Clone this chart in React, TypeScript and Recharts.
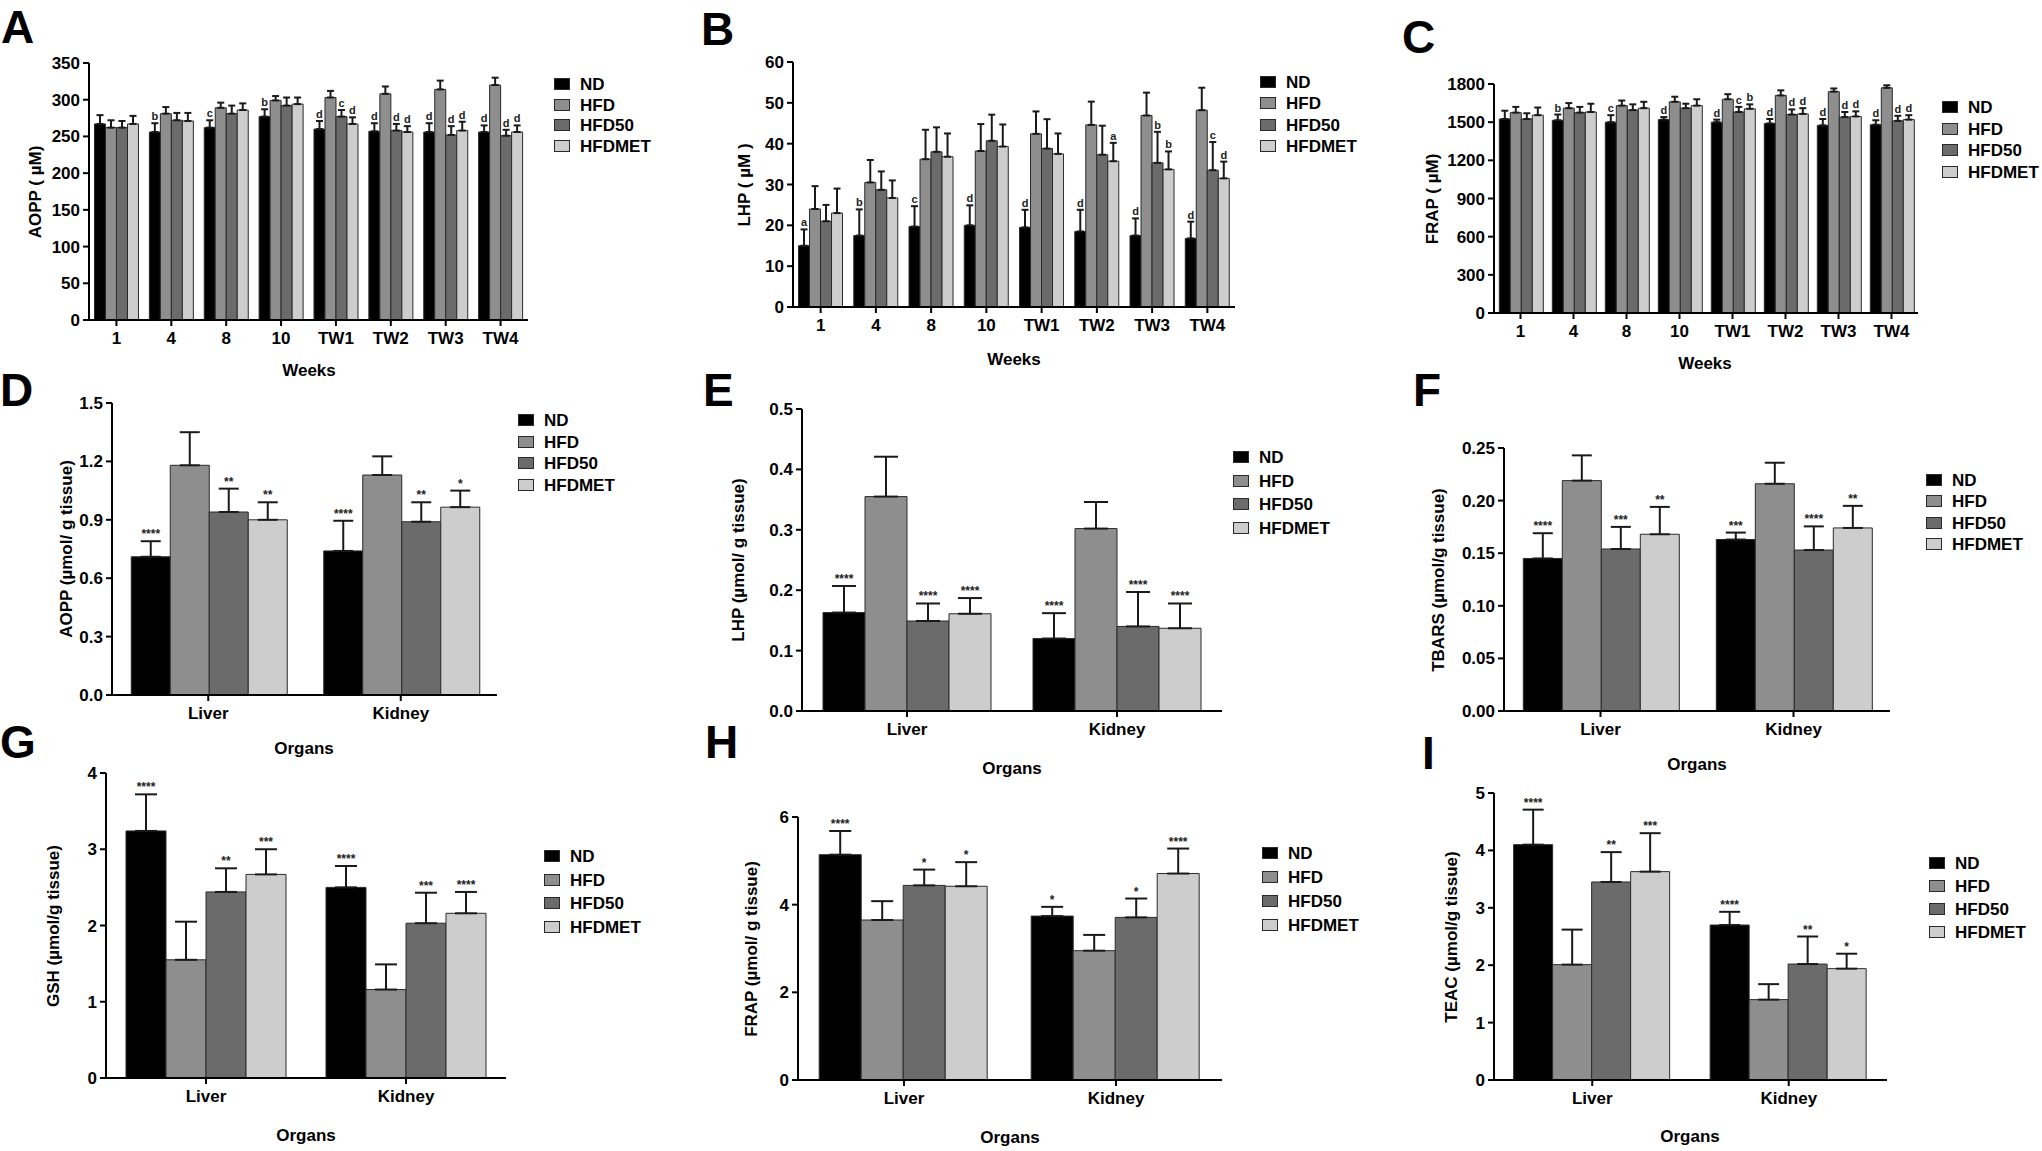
import { BarChart, Bar, XAxis, YAxis, ErrorBar, LabelList } from 'recharts';

const FONT = '"Liberation Sans", Arial, Helvetica, sans-serif';

const GROUPS = ['ND', 'HFD', 'HFD50', 'HFDMET'];
const GROUP_COLORS = ['#000000', '#8e8e8e', '#6b6b6b', '#cdcdcd'];

const WEEKS = ['1', '4', '8', '10', 'TW1', 'TW2', 'TW3', 'TW4'];
const ORGANS = ['Liver', 'Kidney'];

// rows follow GROUPS order: ND, HFD, HFD50, HFDMET
const aoppSerum = [
  [267, 256, 262, 277, 260, 257, 256, 256],
  [262, 281, 289, 299, 303, 308, 314, 320],
  [262, 272, 281, 292, 277, 258, 252, 251],
  [267, 271, 286, 294, 267, 256, 258, 256],
];
const aoppSerumSd = [
  [12, 12, 10, 10, 11, 11, 12, 9],
  [10, 9, 7, 6, 9, 10, 12, 10],
  [9, 10, 11, 11, 9, 9, 12, 8],
  [11, 11, 9, 9, 9, 8, 12, 9],
];
const aoppSerumSig = [
  ['', 'b', 'c', 'b', 'd', 'd', 'd', 'd'],
  ['', '', '', '', '', '', '', ''],
  ['', '', '', '', 'c', 'd', 'd', 'd'],
  ['', '', '', '', 'd', 'd', 'd', 'd'],
];

const lhpSerum = [
  [15, 17.5, 19.7, 20, 19.5, 18.5, 17.5, 16.8],
  [24, 30.5, 36.2, 38.2, 42.4, 44.6, 46.9, 48.2],
  [21, 28.7, 38, 40.7, 38.8, 37.3, 35.3, 33.5],
  [23, 26.7, 36.8, 39.3, 37.5, 35.7, 33.7, 31.5],
];
const lhpSerumSd = [
  [4, 6.4, 5, 4.9, 4.3, 5.3, 4.2, 4.1],
  [5.6, 5.5, 7.2, 6.6, 5.5, 5.7, 5.6, 5.5],
  [4, 4.5, 6, 6.4, 7.2, 7.1, 7.6, 6.9],
  [6, 4.3, 5.7, 5.4, 5, 4.5, 4.4, 4.1],
];
const lhpSerumSig = [
  ['a', 'b', 'c', 'd', 'd', 'd', 'd', 'd'],
  ['', '', '', '', '', '', '', ''],
  ['', '', '', '', '', '', 'b', 'c'],
  ['', '', '', '', '', 'a', 'b', 'd'],
];

const frapSerum = [
  [1525, 1515, 1500, 1520, 1500, 1490, 1475, 1480],
  [1575, 1610, 1630, 1660, 1680, 1710, 1740, 1770],
  [1525, 1575, 1595, 1610, 1580, 1560, 1540, 1510],
  [1555, 1580, 1610, 1630, 1605, 1565, 1545, 1520],
];
const frapSerumSd = [
  [65, 45, 55, 20, 20, 35, 50, 35],
  [45, 40, 40, 40, 40, 40, 25, 20],
  [45, 45, 45, 35, 40, 40, 40, 40],
  [60, 65, 50, 50, 35, 45, 40, 35],
];
const frapSerumSig = [
  ['', 'b', 'c', 'd', 'd', 'd', 'd', 'd'],
  ['', '', '', '', '', '', '', ''],
  ['', '', '', '', 'c', 'd', 'd', 'd'],
  ['', '', '', '', 'b', 'd', 'd', 'd'],
];

const aoppTissue = [[0.71, 0.74], [1.18, 1.13], [0.94, 0.89], [0.9, 0.965]];
const aoppTissueSd = [[0.08, 0.155], [0.17, 0.096], [0.12, 0.1], [0.09, 0.085]];
const aoppTissueSig = [['****', '****'], ['', ''], ['**', '**'], ['**', '*']];

const lhpTissue = [[0.163, 0.12], [0.355, 0.302], [0.149, 0.14], [0.161, 0.137]];
const lhpTissueSd = [[0.044, 0.042], [0.066, 0.044], [0.029, 0.057], [0.026, 0.041]];
const lhpTissueSig = [['****', '****'], ['', ''], ['****', '****'], ['****', '****']];

const tbarsTissue = [[0.145, 0.163], [0.219, 0.216], [0.154, 0.153], [0.168, 0.174]];
const tbarsTissueSd = [[0.024, 0.0066], [0.024, 0.02], [0.021, 0.0225], [0.026, 0.021]];
const tbarsTissueSig = [['****', '***'], ['', ''], ['***', '****'], ['**', '**']];

const gshTissue = [[3.24, 2.5], [1.55, 1.16], [2.44, 2.03], [2.67, 2.16]];
const gshTissueSd = [[0.48, 0.28], [0.5, 0.33], [0.31, 0.4], [0.33, 0.28]];
const gshTissueSig = [['****', '****'], ['', ''], ['**', '***'], ['***', '****']];

const frapTissue = [[5.14, 3.74], [3.65, 2.95], [4.44, 3.71], [4.42, 4.71]];
const frapTissueSd = [[0.54, 0.21], [0.43, 0.36], [0.36, 0.43], [0.55, 0.57]];
const frapTissueSig = [['****', '*'], ['', ''], ['*', '*'], ['*', '****']];

const teacTissue = [[4.1, 2.7], [2.01, 1.4], [3.45, 2.02], [3.63, 1.94]];
const teacTissueSd = [[0.61, 0.23], [0.61, 0.27], [0.52, 0.48], [0.67, 0.26]];
const teacTissueSig = [['****', '****'], ['', ''], ['**', '**'], ['***', '*']];

function buildRows(cats: string[], means: number[][], sds: number[][], sigs: string[][]) {
  return cats.map((c, i) => {
    const row: any = { cat: c };
    GROUPS.forEach((g, k) => {
      row[g] = means[k][i];
      row[g + '_err'] = [0, sds[k][i]];
      row[g + '_sig'] = sigs[k][i];
    });
    return row;
  });
}

function sigContent(rows: any[], g: string, fontSize: number) {
  return (props: any) => {
    const vb = props.viewBox && props.viewBox.width != null ? props.viewBox : props;
    const { x, y, width, height } = vb;
    const row = rows[props.index];
    if (!row || !row[g + '_sig']) return null;
    const h = Math.abs(height);
    const top = Math.min(y, y + height);
    const ey = top - (h * row[g + '_err'][1]) / row[g];
    return (
      <text
        x={x + width / 2}
        y={ey - 3}
        textAnchor="middle"
        fontFamily={FONT}
        fontWeight={700}
        fontSize={fontSize}
        fill="#222"
      >
        {row[g + '_sig']}
      </text>
    );
  };
}

const abs = (x: number, y: number, extra: any = {}) => ({
  position: 'absolute' as const,
  left: x,
  top: y,
  fontFamily: FONT,
  fontWeight: 700,
  color: '#000',
  whiteSpace: 'nowrap' as const,
  lineHeight: 1,
  ...extra,
});

interface PanelProps {
  letter: string;
  letterAt: [number, number];
  box: [number, number, number, number];
  cats: string[];
  means: number[][];
  sds: number[][];
  sigs: string[][];
  ticks: number[];
  decimals: number;
  yTitle: string;
  yTitleX: number;
  xTitle: string;
  xTitleAt: [number, number];
  legendX: number;
  legendY: number;
  legendStep: number;
  cap: number;
  sigSize: number;
}

function Panel(p: PanelProps) {
  const rows = buildRows(p.cats, p.means, p.sds, p.sigs);
  const [x0, y0, x1, y1] = p.box;
  const YW = 70;
  const XH = 40;
  const MT = 10;
  const MR = 4;
  const left = x0 - YW;
  const top = y0 - MT;
  const width = x1 - left + MR;
  const height = y1 + XH - top;
  const tick = { fill: '#000', fontSize: 17, fontWeight: 700, fontFamily: FONT };
  const line = { stroke: '#000', strokeWidth: 2 };

  return (
    <>
      <div style={abs(p.letterAt[0] - 2, p.letterAt[1] - 6, { fontSize: 46 })}>{p.letter}</div>
      <div style={{ position: 'absolute', left, top }}>
        <BarChart
          width={width}
          height={height}
          data={rows}
          margin={{ top: MT, right: MR, left: 0, bottom: 0 }}
          barCategoryGap="10%"
          barGap={0}
        >
          <XAxis
            dataKey="cat"
            height={XH}
            tick={tick}
            axisLine={line}
            tickLine={line}
            tickSize={6}
            tickMargin={6}
            interval={0}
          />
          <YAxis
            width={YW}
            domain={[0, p.ticks[p.ticks.length - 1]]}
            ticks={p.ticks}
            tick={tick}
            axisLine={line}
            tickLine={line}
            tickSize={6}
            tickMargin={3}
            interval={0}
            tickFormatter={(v: number) => v.toFixed(p.decimals)}
          />
          {GROUPS.map((g, k) => (
            <Bar
              key={g}
              dataKey={g}
              fill={GROUP_COLORS[k]}
              stroke="#2a2a2a"
              strokeWidth={1}
              isAnimationActive={false}
            >
              <ErrorBar
                dataKey={g + '_err'}
                direction="y"
                width={p.cap}
                stroke="#1a1a1a"
                strokeWidth={2}
              />
              <LabelList dataKey={g + '_sig'} content={sigContent(rows, g, p.sigSize)} />
            </Bar>
          ))}
        </BarChart>
      </div>
      <div
        style={abs(p.yTitleX, (y0 + y1) / 2, {
          fontSize: 17,
          transform: 'translate(-50%, -50%) rotate(-90deg)',
        })}
      >
        {p.yTitle}
      </div>
      <div style={abs(p.xTitleAt[0], p.xTitleAt[1], { fontSize: 17, transform: 'translate(-50%, -50%)' })}>
        {p.xTitle}
      </div>
      {GROUPS.map((g, k) => (
        <div key={g}>
          <div
            style={{
              position: 'absolute',
              left: p.legendX,
              top: p.legendY + k * p.legendStep - 6,
              width: 16,
              height: 12,
              boxSizing: 'border-box',
              background: GROUP_COLORS[k],
              border: '1px solid #2a2a2a',
            }}
          />
          <div
            style={abs(p.legendX + 26, p.legendY + k * p.legendStep, {
              fontSize: 17,
              transform: 'translateY(-50%)',
            })}
          >
            {g}
          </div>
        </div>
      ))}
    </>
  );
}

export default function App() {
  return (
    <div
      style={{
        position: 'absolute',
        left: 0,
        top: 0,
        width: 2042,
        height: 1151,
        background: '#fff',
        overflow: 'hidden',
      }}
    >
      <Panel
        letter="A" letterAt={[3, 10]} box={[89, 63, 528, 320]}
        cats={WEEKS} means={aoppSerum} sds={aoppSerumSd} sigs={aoppSerumSig}
        ticks={[0, 50, 100, 150, 200, 250, 300, 350]} decimals={0}
        yTitle="AOPP ( µM)" yTitleX={35} xTitle="Weeks" xTitleAt={[309, 370]}
        legendX={554} legendY={84} legendStep={20.7} cap={3.5} sigSize={11}
      />
      <Panel
        letter="B" letterAt={[703, 12]} box={[793, 62, 1235, 307]}
        cats={WEEKS} means={lhpSerum} sds={lhpSerumSd} sigs={lhpSerumSig}
        ticks={[0, 10, 20, 30, 40, 50, 60]} decimals={0}
        yTitle="LHP ( µM )" yTitleX={744} xTitle="Weeks" xTitleAt={[1014, 359]}
        legendX={1260} legendY={82} legendStep={21.3} cap={3.5} sigSize={11}
      />
      <Panel
        letter="C" letterAt={[1404, 20]} box={[1494, 84, 1918, 313]}
        cats={WEEKS} means={frapSerum} sds={frapSerumSd} sigs={frapSerumSig}
        ticks={[0, 300, 600, 900, 1200, 1500, 1800]} decimals={0}
        yTitle="FRAP ( µM)" yTitleX={1432} xTitle="Weeks" xTitleAt={[1705, 363]}
        legendX={1942} legendY={107} legendStep={21.7} cap={3.5} sigSize={11}
      />
      <Panel
        letter="D" letterAt={[2, 373]} box={[112, 403, 497, 695]}
        cats={ORGANS} means={aoppTissue} sds={aoppTissueSd} sigs={aoppTissueSig}
        ticks={[0, 0.3, 0.6, 0.9, 1.2, 1.5]} decimals={1}
        yTitle="AOPP (µmol/ g tissue)" yTitleX={66} xTitle="Organs" xTitleAt={[304, 748]}
        legendX={518} legendY={420} legendStep={21.7} cap={10} sigSize={12}
      />
      <Panel
        letter="E" letterAt={[705, 373]} box={[802, 409, 1222, 711]}
        cats={ORGANS} means={lhpTissue} sds={lhpTissueSd} sigs={lhpTissueSig}
        ticks={[0, 0.1, 0.2, 0.3, 0.4, 0.5]} decimals={1}
        yTitle="LHP (µmol/ g tissue)" yTitleX={738} xTitle="Organs" xTitleAt={[1012, 768]}
        legendX={1233} legendY={457} legendStep={23.7} cap={12} sigSize={12}
      />
      <Panel
        letter="F" letterAt={[1415, 373]} box={[1504, 448, 1890, 711]}
        cats={ORGANS} means={tbarsTissue} sds={tbarsTissueSd} sigs={tbarsTissueSig}
        ticks={[0, 0.05, 0.1, 0.15, 0.2, 0.25]} decimals={2}
        yTitle="TBARS (µmol/g tissue)" yTitleX={1438} xTitle="Organs" xTitleAt={[1697, 764]}
        legendX={1926} legendY={480} legendStep={21.3} cap={10} sigSize={12}
      />
      <Panel
        letter="G" letterAt={[2, 725]} box={[106, 773, 506, 1078]}
        cats={ORGANS} means={gshTissue} sds={gshTissueSd} sigs={gshTissueSig}
        ticks={[0, 1, 2, 3, 4]} decimals={0}
        yTitle="GSH (µmol/g tissue)" yTitleX={53} xTitle="Organs" xTitleAt={[306, 1135]}
        legendX={544} legendY={856} legendStep={23.7} cap={11} sigSize={12}
      />
      <Panel
        letter="H" letterAt={[707, 725]} box={[798, 817, 1222, 1080]}
        cats={ORGANS} means={frapTissue} sds={frapTissueSd} sigs={frapTissueSig}
        ticks={[0, 2, 4, 6]} decimals={0}
        yTitle="FRAP (µmol/ g tissue)" yTitleX={751} xTitle="Organs" xTitleAt={[1010, 1137]}
        legendX={1262} legendY={853} legendStep={24} cap={11} sigSize={12}
      />
      <Panel
        letter="I" letterAt={[1424, 736]} box={[1494, 793, 1887, 1080]}
        cats={ORGANS} means={teacTissue} sds={teacTissueSd} sigs={teacTissueSig}
        ticks={[0, 1, 2, 3, 4, 5]} decimals={0}
        yTitle="TEAC (µmol/g tissue)" yTitleX={1451} xTitle="Organs" xTitleAt={[1690, 1136]}
        legendX={1929} legendY={863} legendStep={23} cap={10.5} sigSize={12}
      />
    </div>
  );
}
